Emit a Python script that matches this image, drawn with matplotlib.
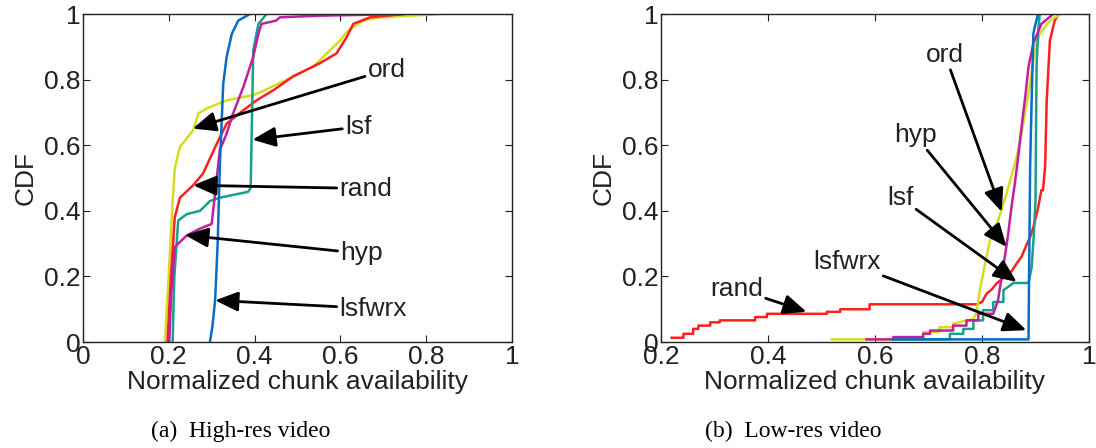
import numpy as np
import matplotlib.pyplot as plt

plt.rcParams['font.family'] = ['Liberation Sans', 'DejaVu Sans']

# colours (MATLAB-ish)
C_ORD = '#d2de1e'
C_RAND = '#ff1f1f'
C_LSF = '#17a08a'
C_HYP = '#c21fa0'
C_LSFWRX = '#0b6cc4'

# ---- (a) high-res video ----
ord_a_x = [0.191, 0.201, 0.209, 0.214, 0.226, 0.257, 0.269, 0.288, 0.335, 0.397, 0.416, 0.475, 0.537, 0.6, 0.615, 0.653, 0.692, 0.832]
ord_a_y = [0, 0.23, 0.43, 0.53, 0.595, 0.646, 0.697, 0.712, 0.737, 0.753, 0.763, 0.8, 0.84, 0.92, 0.946, 0.98, 0.99, 1.0]

rand_a_x = [0.197, 0.205, 0.214, 0.226, 0.257, 0.28, 0.312, 0.335, 0.374, 0.405, 0.444, 0.49, 0.552, 0.591, 0.615, 0.63, 0.669, 0.747]
rand_a_y = [0, 0.2, 0.38, 0.44, 0.478, 0.514, 0.605, 0.666, 0.707, 0.737, 0.768, 0.81, 0.85, 0.88, 0.93, 0.97, 0.99, 1.0]

lsf_a_x = [0.209, 0.213, 0.222, 0.242, 0.273, 0.296, 0.319, 0.385, 0.391, 0.393, 0.397, 0.409, 0.428]
lsf_a_y = [0, 0.2, 0.37, 0.39, 0.40, 0.43, 0.44, 0.458, 0.47, 0.615, 0.89, 0.97, 1.0]

hyp_a_x = [0.201, 0.206, 0.214, 0.242, 0.273, 0.3, 0.308, 0.319, 0.335, 0.35, 0.374, 0.397, 0.409, 0.416, 0.45, 0.459, 0.55, 0.747]
hyp_a_y = [0, 0.15, 0.29, 0.325, 0.346, 0.36, 0.453, 0.585, 0.636, 0.697, 0.778, 0.87, 0.94, 0.97, 0.98, 0.99, 0.995, 1.0]

lsfwrx_a_x = [0.296, 0.302, 0.308, 0.314, 0.319, 0.327, 0.335, 0.347, 0.362, 0.389]
lsfwrx_a_y = [0, 0.05, 0.127, 0.3, 0.534, 0.788, 0.87, 0.94, 0.98, 1.0]

# ---- (b) low-res video ----
rand_b_x = [0.22, 0.242, 0.242, 0.26, 0.26, 0.27, 0.27, 0.292, 0.292, 0.31, 0.31, 0.376, 0.376, 0.398, 0.398, 0.51, 0.51, 0.535, 0.535, 0.59, 0.59, 0.79,
            0.80, 0.809, 0.818, 0.827, 0.836, 0.846, 0.855, 0.865, 0.874, 0.883, 0.89, 0.896, 0.905, 0.911, 0.914, 0.918, 0.921, 0.927, 0.936, 0.943]
rand_b_y = [0.013, 0.013, 0.025, 0.025, 0.04, 0.04, 0.05, 0.05, 0.06, 0.06, 0.066, 0.066, 0.076, 0.076, 0.086, 0.086, 0.092, 0.092, 0.10, 0.10, 0.115, 0.115,
            0.122, 0.148, 0.16, 0.178, 0.19, 0.208, 0.215, 0.24, 0.26, 0.295, 0.32, 0.35, 0.41, 0.463, 0.463, 0.534, 0.737, 0.92, 0.98, 1.0]

ord_b_x = [0.519, 0.69, 0.69, 0.72, 0.72, 0.746, 0.746, 0.784, 0.79, 0.796, 0.806, 0.815, 0.83, 0.846, 0.865, 0.874, 0.89, 0.899, 0.908, 0.927, 0.946]
ord_b_y = [0.008, 0.008, 0.03, 0.03, 0.045, 0.045, 0.056, 0.07, 0.09, 0.158, 0.24, 0.31, 0.37, 0.453, 0.565, 0.636, 0.79, 0.89, 0.94, 0.98, 1.0]

hyp_b_x = [0.584, 0.634, 0.634, 0.69, 0.69, 0.703, 0.703, 0.746, 0.746, 0.771, 0.771, 0.793, 0.793, 0.821, 0.83, 0.835, 0.84, 0.849, 0.855, 0.862, 0.868, 0.874, 0.881, 0.887, 0.896, 0.911, 0.933]
hyp_b_y = [0.008, 0.008, 0.015, 0.015, 0.025, 0.025, 0.035, 0.035, 0.05, 0.05, 0.066, 0.066, 0.086, 0.086, 0.127, 0.18, 0.23, 0.33, 0.41, 0.49, 0.57, 0.656, 0.75, 0.84, 0.91, 0.97, 1.0]

lsf_b_x = [0.634, 0.74, 0.74, 0.765, 0.765, 0.784, 0.784, 0.802, 0.802, 0.821, 0.821, 0.84, 0.84, 0.859, 0.887, 0.893, 0.897, 0.9, 0.902, 0.905, 0.908]
lsf_b_y = [0.008, 0.008, 0.025, 0.025, 0.04, 0.04, 0.066, 0.066, 0.097, 0.097, 0.122, 0.122, 0.158, 0.18, 0.18, 0.23, 0.33, 0.43, 0.84, 0.95, 1.0]

lsfwrx_b_x = [0.634, 0.887, 0.888, 0.89, 0.893, 0.896, 0.9, 0.905]
lsfwrx_b_y = [0.008, 0.008, 0.2, 0.534, 0.75, 0.94, 0.97, 1.0]

ticks_y = [0, 0.2, 0.4, 0.6, 0.8, 1]
ticklabels_y = ['0', '0.2', '0.4', '0.6', '0.8', '1']
ticks_xa = [0, 0.2, 0.4, 0.6, 0.8, 1]
ticklabels_xa = ['0', '0.2', '0.4', '0.6', '0.8', '1']
ticks_xb = [0.2, 0.4, 0.6, 0.8, 1]
ticklabels_xb = ['0.2', '0.4', '0.6', '0.8', '1']

# annotations: (label, text pos, arrow tip, ha)
notes_a = [('ord', (0.664, 0.83), (0.256, 0.651), 'left'),
           ('lsf', (0.611, 0.656), (0.395, 0.617), 'left'),
           ('rand', (0.598, 0.468), (0.257, 0.478), 'left'),
           ('hyp', (0.6, 0.27), (0.238, 0.326), 'left'),
           ('lsfwrx', (0.598, 0.102), (0.308, 0.127), 'left')]
notes_b = [('ord', (0.731, 0.875), (0.837, 0.397), 'center'),
           ('hyp', (0.675, 0.63), (0.846, 0.29), 'center'),
           ('lsf', (0.647, 0.44), (0.865, 0.183), 'center'),
           ('lsfwrx', (0.547, 0.244), (0.883, 0.036), 'center'),
           ('rand', (0.341, 0.163), (0.472, 0.092), 'center')]

FS = 19
LW = 1.8

fig = plt.figure(figsize=(10.96, 4.48), dpi=100)
ax1 = fig.add_axes([0.0757, 0.2366, 0.3914, 0.732])
ax2 = fig.add_axes([0.6031, 0.2366, 0.3905, 0.732])

ax1.plot(ord_a_x, ord_a_y, color=C_ORD, lw=LW)
ax1.plot(rand_a_x, rand_a_y, color=C_RAND, lw=LW)
ax1.plot(lsf_a_x, lsf_a_y, color=C_LSF, lw=LW)
ax1.plot(hyp_a_x, hyp_a_y, color=C_HYP, lw=LW)
ax1.plot(lsfwrx_a_x, lsfwrx_a_y, color=C_LSFWRX, lw=LW)

ax2.plot(rand_b_x, rand_b_y, color=C_RAND, lw=LW)
ax2.plot(ord_b_x, ord_b_y, color=C_ORD, lw=LW)
ax2.plot(lsf_b_x, lsf_b_y, color=C_LSF, lw=LW)
ax2.plot(hyp_b_x, hyp_b_y, color=C_HYP, lw=LW)
ax2.plot(lsfwrx_b_x, lsfwrx_b_y, color=C_LSFWRX, lw=LW)

for ax, notes in ((ax1, notes_a), (ax2, notes_b)):
    for lab, txt, tip, ha in notes:
        ax.annotate(lab, xy=tip, xytext=txt, ha=ha, va='center', fontsize=FS,
                    color='#222222',
                    arrowprops=dict(arrowstyle='-|>,head_length=0.7,head_width=0.3',
                                    color='k', lw=2, mutation_scale=20,
                                    shrinkA=0, shrinkB=0))

ax1.set_xlim(0, 1)
ax2.set_xlim(0.2, 1)
ax1.set_xticks(ticks_xa)
ax1.set_xticklabels(ticklabels_xa)
ax2.set_xticks(ticks_xb)
ax2.set_xticklabels(ticklabels_xb)
for ax in (ax1, ax2):
    ax.set_ylim(0, 1)
    ax.set_yticks(ticks_y)
    ax.set_yticklabels(ticklabels_y)
    ax.tick_params(direction='in', top=True, right=True, labelsize=FS, length=5,
                   width=0.8, pad=2, colors='#222222')
    for s in ax.spines.values():
        s.set_linewidth(1.0)
        s.set_color('#222222')
    ax.set_xlabel('Normalized chunk availability', fontsize=FS, labelpad=1, color='#222222')
    ax.set_ylabel('CDF', fontsize=FS, labelpad=4, color='#222222')

fig.text(0.22, 0.036, '(a)  High-res video', ha='center', va='center',
         fontsize=17, family='Liberation Serif')
fig.text(0.724, 0.036, '(b)  Low-res video', ha='center', va='center',
         fontsize=17, family='Liberation Serif')

fig.savefig('out.png', dpi=100)
